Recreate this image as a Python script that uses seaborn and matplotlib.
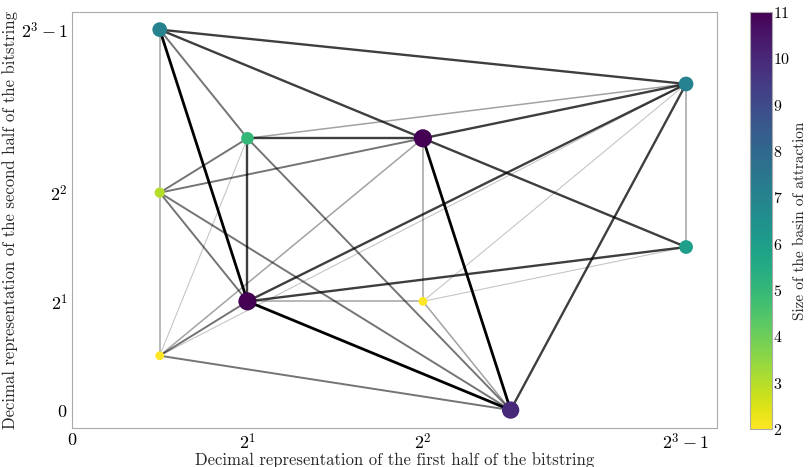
import numpy as np
import pandas as pd
import matplotlib
matplotlib.use("Agg")
import matplotlib.pyplot as plt
import seaborn as sns

# Attractor states: first-half value, second-half value, basin size
node_names = ["A", "B", "C", "D", "E", "F", "G", "H", "I", "J"]
node_x = [1, 7, 2, 4, 1, 7, 2, 4, 1, 5]
node_y = [7, 6, 5, 5, 4, 3, 2, 2, 1, 0]
basin_size = [7, 7, 5, 11, 3, 6, 11, 2, 2, 10]

# Transitions between attractors and their strength
edge_src = ["A", "A", "A", "A", "A", "B", "B", "B", "B", "B", "B", "B",
            "C", "C", "C", "C", "C", "D", "D", "D", "D", "D",
            "E", "E", "E", "F", "F", "G", "G", "G", "H", "I"]
edge_dst = ["B", "C", "D", "G", "E", "D", "G", "J", "F", "H", "C", "I",
            "D", "G", "E", "J", "I", "F", "J", "H", "E", "I",
            "I", "G", "J", "G", "H", "H", "J", "I", "J", "J"]
edge_weight = [4, 3, 4, 5, 2, 4, 4, 4, 2, 1, 2, 1,
               4, 4, 3, 3, 1, 4, 5, 2, 3, 2,
               2, 3, 3, 4, 1, 2, 5, 3, 2, 3]

x_ticks = [0, 2, 4, 7]
x_tick_labels = [r"$0$", r"$2^1$", r"$2^2$", r"$2^3-1$"]
y_ticks = [0, 2, 4, 7]
y_tick_labels = [r"$0$", r"$2^1$", r"$2^2$", r"$2^3-1$"]

sns.set_style("white")
plt.rcParams["font.family"] = "serif"
plt.rcParams["font.serif"] = ["cmr10", "DejaVu Serif"]
plt.rcParams["mathtext.fontset"] = "cm"
plt.rcParams["axes.formatter.use_mathtext"] = True

nodes = pd.DataFrame({"name": node_names, "x": node_x, "y": node_y, "size": basin_size})
pos = nodes.set_index("name")[["x", "y"]]

fig = plt.figure(figsize=(8.09, 4.67), dpi=100)
ax = fig.add_axes([0.089, 0.0835, 0.797, 0.8915])
cax = fig.add_axes([0.927, 0.0815, 0.027, 0.893])

# edges: stronger transitions are darker and wider
wmax = max(edge_weight)
for s, d, w in zip(edge_src, edge_dst, edge_weight):
    xs = [pos.loc[s, "x"], pos.loc[d, "x"]]
    ys = [pos.loc[s, "y"], pos.loc[d, "y"]]
    frac = w / wmax
    ax.plot(xs, ys, color="black", alpha=0.15 + 0.85 * frac ** 1.5,
            lw=0.5 + 1.5 * frac, zorder=1, solid_capstyle="round")

norm = plt.Normalize(2, 11)
cmap = plt.get_cmap("viridis_r")
sns.scatterplot(data=nodes, x="x", y="y", hue="size", palette="viridis_r",
                hue_norm=norm, size="size", sizes=(40, 170), size_norm=(2, 11),
                legend=False, linewidth=0, zorder=3, ax=ax)

ax.set_xlim(0, 7.35)
ax.set_ylim(-0.33, 7.33)
ax.set_xticks(x_ticks)
ax.set_xticklabels(x_tick_labels)
ax.set_yticks(y_ticks)
ax.set_yticklabels(y_tick_labels)
ax.xaxis.set_minor_locator(matplotlib.ticker.MultipleLocator(0.5))
ax.yaxis.set_minor_locator(matplotlib.ticker.MultipleLocator(0.5))
ax.tick_params(which="both", direction="in", colors="#bbbbbb", labelcolor="black",
               labelsize=13)
ax.tick_params(which="major", length=4, pad=3)
ax.tick_params(which="minor", length=2)
for sp in ax.spines.values():
    sp.set_color("#aaaaaa")
    sp.set_linewidth(0.8)
ax.set_xlabel("Decimal representation of the first half of the bitstring",
              fontsize=12, labelpad=0)
ax.set_ylabel("Decimal representation of the second half of the bitstring",
              fontsize=12, labelpad=2)

sm = matplotlib.cm.ScalarMappable(norm=norm, cmap=cmap)
cb = fig.colorbar(sm, cax=cax)
cb.set_ticks(range(2, 12))
cb.ax.tick_params(labelsize=11.5, direction="in", length=3, pad=1,
                  colors="#999999", labelcolor="black")
cb.outline.set_edgecolor("#aaaaaa")
cb.set_label("Size of the basin of attraction", fontsize=11, labelpad=2)

fig.savefig("out.png", dpi=100)
